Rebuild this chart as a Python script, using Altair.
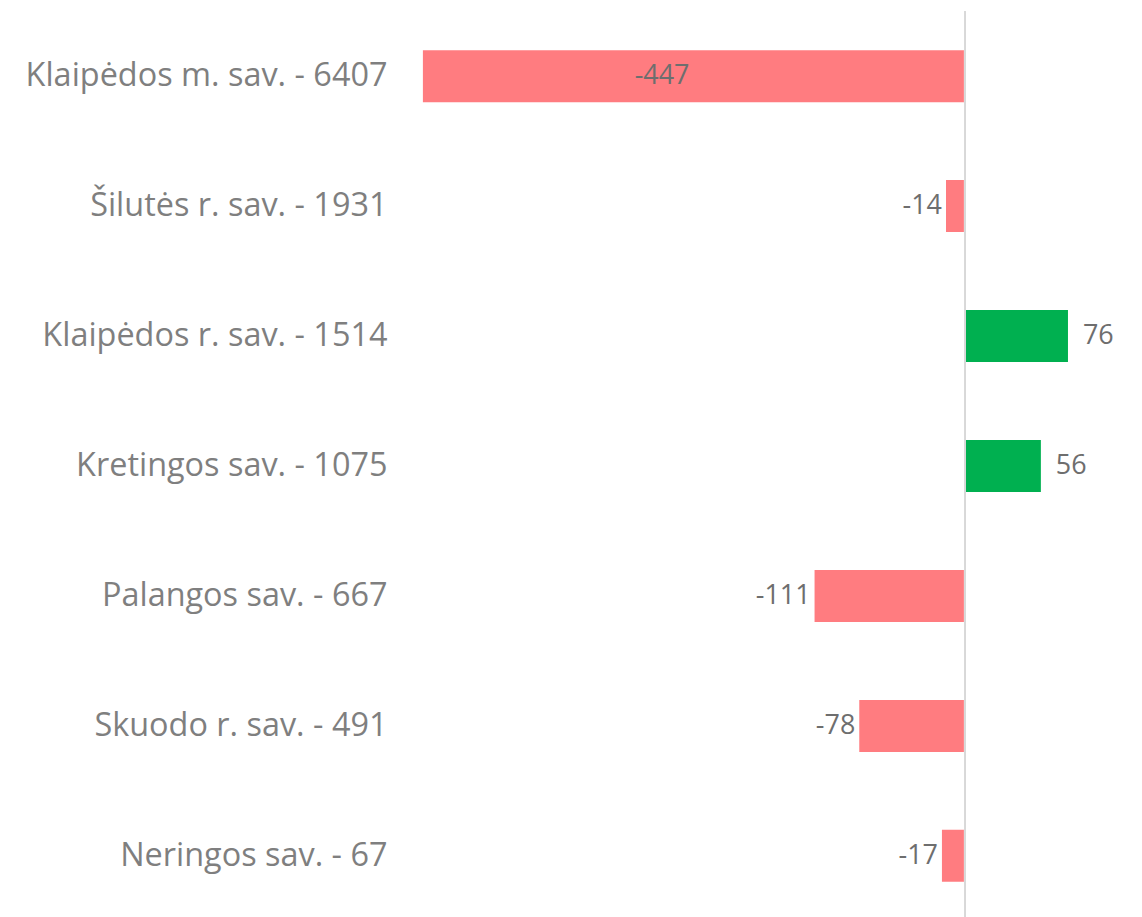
import altair as alt
import pandas as pd

categories = [
    "Klaipėdos m. sav. - 6407",
    "Šilutės r. sav. - 1931",
    "Klaipėdos r. sav. - 1514",
    "Kretingos sav. - 1075",
    "Palangos sav. - 667",
    "Skuodo r. sav. - 491",
    "Neringos sav. - 67",
]
values = [-447, -14, 76, 56, -111, -78, -17]

XMIN, XMAX = -400, 110

rows = []
for c, v in zip(categories, values):
    clipped = v < XMIN
    rows.append({
        "cat": c,
        "val": v,
        "zero": 0,
        "label": str(v),
        "lx": v / 2 if clipped else v,
        "pos": "inside" if clipped else ("neg" if v < 0 else "pos"),
        "col": "#FF7C80" if v < 0 else "#00B050",
    })
df = pd.DataFrame(rows)

W, H = 693, 886

xs = alt.Scale(domain=[XMIN, XMAX], nice=False, zero=False)
y = alt.Y("cat:N", sort=categories, axis=alt.Axis(
    title=None, domain=False, ticks=False, grid=False, labelFontSize=32.5,
    labelFont="Open Sans", labelColor="#7f7f7f", labelPadding=36, labelLimit=500),
    scale=alt.Scale(paddingInner=0.6, paddingOuter=0.2))

bars = alt.Chart(df).mark_bar(clip=True).encode(
    x=alt.X("val:Q", scale=xs, axis=None), x2="zero:Q", y=y,
    color=alt.Color("col:N", scale=None, legend=None),
)

zero = alt.Chart(df).mark_rule(color="#d9d9d9", strokeWidth=2).encode(
    x=alt.X("zero:Q", scale=xs, axis=None), y=alt.value(-13), y2=alt.value(H + 12)
)

def lab(pos, align, dx):
    return alt.Chart(df).transform_filter(alt.datum.pos == pos).mark_text(
        align=align, baseline="middle", dx=dx, fontSize=27, font="Open Sans", color="#6e6e6e"
    ).encode(x=alt.X("lx:Q", scale=xs, axis=None), y=y, text="label:N")

chart = alt.layer(
    bars, zero,
    lab("inside", "center", 0),
    lab("neg", "right", -4),
    lab("pos", "left", 15),
).properties(
    width=W, height=H,
    autosize=alt.AutoSizeParams(type="none"),
    padding={"left": 416, "top": 15, "right": 20, "bottom": 10},
).configure_view(stroke=None)

chart.save("out.html", embed_options={"renderer": "svg", "actions": False})
